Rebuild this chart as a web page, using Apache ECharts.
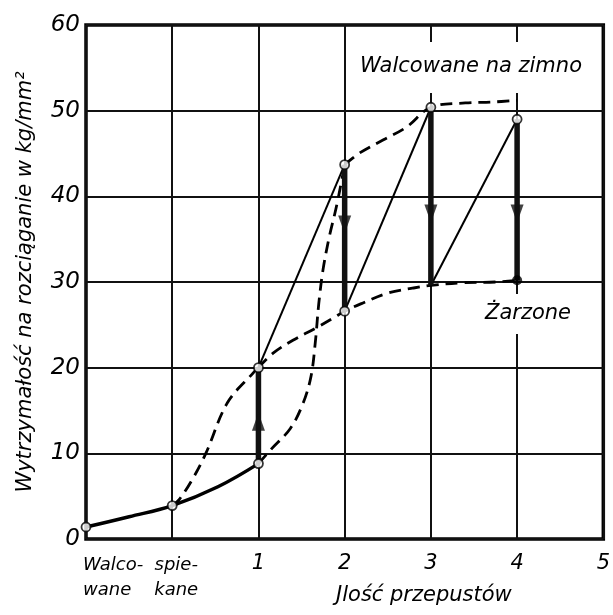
<!DOCTYPE html>
<html><head><meta charset="utf-8">
<script src="https://cdn.jsdelivr.net/npm/echarts@6/dist/echarts.min.js"></script>
<style>html,body{margin:0;padding:0;background:#fff}#c{width:613px;height:615px}</style>
</head><body><div id="c"></div>
<script>
// ---- data ----
var xTicks = [-1, 0, 1, 2, 3, 4, 5];
var xTickLabels = ['Walco-\nwane', 'spie-\nkane', '1', '2', '3', '4', '5'];
var yTicks = [0, 10, 20, 30, 40, 50, 60];

// rolled from sintered strip (solid curve)
var baseX = [-1, -0.5, 0, 0.53, 1];
var baseY = [1.4, 2.6, 3.9, 6.1, 8.8];

// cold rolled envelope (upper dashed), two strokes meeting at pass 2
var coldAX = [1, 1.14, 1.37, 1.52, 1.61, 1.66, 1.7, 1.75, 1.82, 1.9, 1.98];
var coldAY = [8.8, 10.4, 12.9, 15.9, 19.0, 23.0, 27.5, 31.5, 35.2, 38.6, 42.6];
var coldBX = [2, 2.18, 2.45, 2.72, 3, 3.4, 3.7, 4];
var coldBY = [43.7, 45.1, 46.6, 48.1, 50.4, 50.9, 51.0, 51.2];

// annealed envelope (lower dashed), two strokes meeting at pass 1
var annAX = [0, 0.08, 0.23, 0.39, 0.64, 0.94, 1];
var annAY = [3.9, 4.6, 6.9, 10, 15.9, 19.4, 20];
var annBX = [1, 1.17, 1.4, 1.68, 1.87, 2, 2.2, 2.5, 2.8, 3, 3.35, 3.75, 4];
var annBY = [20, 21.7, 23.2, 24.7, 25.8, 26.6, 27.5, 28.7, 29.3, 29.6, 29.9, 30.0, 30.2];

// thin rolling lines
var diagFromX = [1, 2, 3];
var diagFromY = [20, 26.6, 29.6];
var diagToX = [2, 3, 4];
var diagToY = [43.7, 50.4, 49];

// thick arrows (stems)
var stemX = [1, 2, 3, 4];
var stemFrom = [8.8, 43.7, 50.4, 49];
var stemTo = [20, 26.6, 29.6, 30.2];
var headY = [13.7, 36.7, 38, 38];

// markers
var openX = [-1, 0, 1, 1, 2, 2, 3, 4];
var openY = [1.4, 3.9, 8.8, 20, 43.7, 26.6, 50.4, 49];
var filledX = [4];
var filledY = [30.2];

var yTitle = 'Wytrzymałość na rozciąganie w kg/mm²';
var xTitle = 'Jlość przepustów';
var coldLabel = 'Walcowane na zimno';
var annLabel = 'Żarzone';

// ---- chart ----
var FONT = '"DejaVu Sans", sans-serif';
function zip(a, b) { return a.map(function (v, i) { return [v, b[i]]; }); }

var series = [];
series.push({ type: 'line', data: zip(baseX, baseY), smooth: 0.4, symbol: 'none',
  lineStyle: { color: '#000', width: 3.5 }, z: 3 });
[[coldAX, coldAY], [coldBX, coldBY], [annAX, annAY], [annBX, annBY]].forEach(function (p) {
  series.push({ type: 'line', data: zip(p[0], p[1]), smooth: 0.35, symbol: 'none',
    lineStyle: { color: '#000', width: 2.8, type: [12, 7] }, z: 3 });
});
diagFromX.forEach(function (x, i) {
  series.push({ type: 'line', data: [[x, diagFromY[i]], [diagToX[i], diagToY[i]]], symbol: 'none',
    lineStyle: { color: '#000', width: 2 }, z: 3 });
});
stemX.forEach(function (x, i) {
  series.push({ type: 'line', data: [[x, stemFrom[i]], [x, stemTo[i]]], symbol: 'none',
    lineStyle: { color: '#111', width: 5.5 }, z: 4 });
});
series.push({ type: 'scatter', symbol: 'triangle', symbolSize: [13, 18], z: 5,
  itemStyle: { color: '#111' },
  data: stemX.map(function (x, i) {
    return { value: [x, headY[i]], symbolRotate: stemTo[i] > stemFrom[i] ? 0 : 180 };
  }) });
series.push({ type: 'scatter', symbol: 'circle', symbolSize: 9, z: 6,
  itemStyle: { color: '#fff', borderColor: '#000', borderWidth: 1.8 },
  data: zip(openX, openY) });
series.push({ type: 'scatter', symbol: 'circle', symbolSize: 10, z: 6,
  itemStyle: { color: '#000' }, data: zip(filledX, filledY) });

var chart = echarts.init(document.getElementById('c'), null, { renderer: 'canvas' });
chart.setOption({
  animation: false,
  backgroundColor: '#fff',
  grid: { left: 86, right: 9, top: 25, bottom: 76, show: true, borderColor: '#000', borderWidth: 3.5, containLabel: false },
  xAxis: {
    type: 'value', min: -1, max: 5, interval: 1,
    axisLine: { show: false }, axisTick: { show: false },
    splitLine: { show: true, lineStyle: { color: '#111', width: 2 } },
    axisLabel: {
      margin: 14, color: '#000', fontFamily: FONT, fontStyle: 'italic', fontSize: 21,
      showMinLabel: true, showMaxLabel: true,
      formatter: function (v) {
        if (v < 1) return '';
        var idx = xTicks.indexOf(v);
        return idx >= 0 ? xTickLabels[idx] : '';
      }
    }
  },
  yAxis: {
    type: 'value', min: 0, max: 60, interval: 10,
    axisLine: { show: false }, axisTick: { show: false },
    splitLine: { show: true, lineStyle: { color: '#111', width: 2 } },
    axisLabel: { margin: 6, color: '#000', fontFamily: FONT, fontStyle: 'italic', fontSize: 23,
      formatter: function (v) { return yTicks.indexOf(v) >= 0 ? String(v) : ''; } },
    name: yTitle, nameLocation: 'middle', nameGap: 50, nameRotate: 90,
    nameTextStyle: { color: '#000', fontFamily: FONT, fontStyle: 'italic', fontSize: 21 }
  },
  title: [
    { text: coldLabel, left: 354, top: 42, padding: [12, 6, 13, 6], backgroundColor: '#fff',
      textStyle: { color: '#000', fontFamily: FONT, fontStyle: 'italic', fontWeight: 'normal', fontSize: 21, lineHeight: 26 } },
    { text: annLabel, left: 481, top: 294, padding: [6, 4, 6, 4], backgroundColor: '#fff',
      textStyle: { color: '#000', fontFamily: FONT, fontStyle: 'italic', fontWeight: 'normal', fontSize: 21, lineHeight: 28 } },
    { text: xTitle, left: 336, top: 583, padding: 0,
      textStyle: { color: '#000', fontFamily: FONT, fontStyle: 'italic', fontWeight: 'normal', fontSize: 21, lineHeight: 26 } }
  ],
  series: series
});

// two-line labels under the first two ticks
var gfx = [];
[-1, 0].forEach(function (v) {
  var p = chart.convertToPixel({ gridIndex: 0 }, [v, 0]);
  var idx = xTicks.indexOf(v);
  gfx.push({ type: 'text', x: v === -1 ? p[0] - 3 : p[0] + 4, y: p[1] + 14, z: 10,
    style: { text: xTickLabels[idx], fill: '#000', align: v === -1 ? 'left' : 'center', verticalAlign: 'top',
      font: 'italic 18px "DejaVu Sans", sans-serif', lineHeight: 25 } });
});
chart.setOption({ graphic: gfx });
</script></body></html>
